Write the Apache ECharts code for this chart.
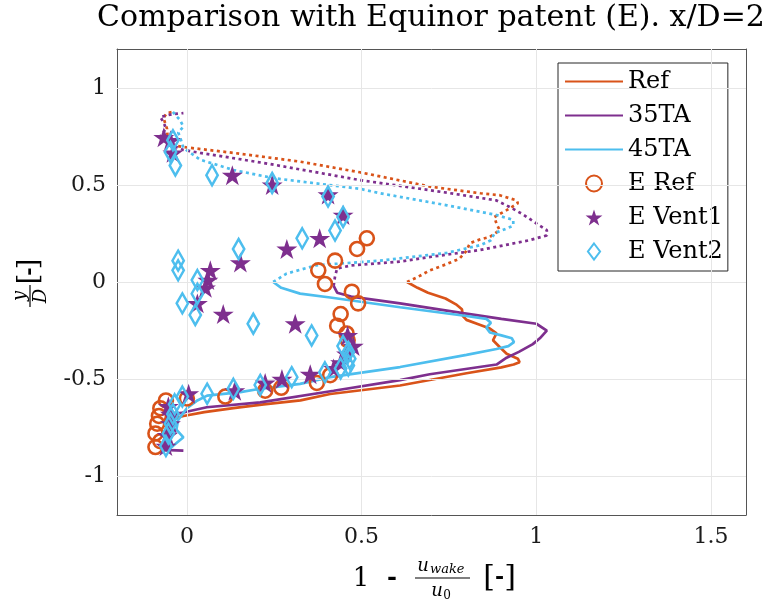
<!DOCTYPE html>
<html><head><meta charset="utf-8">
<script src="https://cdn.jsdelivr.net/npm/echarts@6/dist/echarts.min.js"></script>
<style>html,body{margin:0;padding:0;background:#fff}#c{width:773px;height:613px}</style>
</head><body><div id="c"></div>
<script>
// ---- tick values ----
const xTicks = [0, 0.5, 1, 1.5];
const yTicks = [-1, -0.5, 0, 0.5, 1];
const lineNames = ['Ref', '35TA', '45TA'];
const markerNames = ['E Ref', 'E Vent1', 'E Vent2'];

// ---- simulated profiles [x, y] (solid = lower part, dotted = upper part) ----
const refSolid = [[-0.06,-0.87],[-0.065,-0.82],[-0.06,-0.77],[-0.045,-0.725],[-0.03,-0.70],[-0.01,-0.69],[0.05,-0.67],[0.133,-0.65],[0.22,-0.63],[0.325,-0.61],[0.41,-0.577],[0.61,-0.533],[0.80,-0.47],[0.90,-0.44],[0.935,-0.425],[0.952,-0.413],[0.947,-0.395],[0.915,-0.37],[0.895,-0.335],[0.876,-0.30],[0.886,-0.265],[0.867,-0.24],[0.83,-0.215],[0.80,-0.195],[0.79,-0.175],[0.787,-0.14],[0.77,-0.115],[0.74,-0.085],[0.69,-0.055],[0.66,-0.03],[0.63,0.0]];
const refDotted = [[0.63,0.0],[0.66,0.025],[0.695,0.06],[0.74,0.09],[0.78,0.12],[0.80,0.16],[0.81,0.20],[0.84,0.22],[0.867,0.232],[0.895,0.267],[0.886,0.30],[0.88,0.335],[0.915,0.37],[0.947,0.405],[0.944,0.42],[0.895,0.447],[0.84,0.457],[0.70,0.49],[0.495,0.565],[0.324,0.62],[0.133,0.665],[-0.01,0.695],[-0.04,0.705],[-0.055,0.74],[-0.057,0.79],[-0.067,0.845],[-0.057,0.87],[-0.04,0.876]];
const ta35Solid = [[-0.01,-0.868],[-0.07,-0.865],[-0.05,-0.83],[-0.045,-0.78],[-0.045,-0.72],[-0.03,-0.68],[0.057,-0.645],[0.21,-0.62],[0.42,-0.56],[0.61,-0.505],[0.695,-0.475],[0.886,-0.425],[0.915,-0.39],[0.95,-0.36],[0.99,-0.32],[1.01,-0.29],[1.03,-0.25],[1.0,-0.215],[0.90,-0.19],[0.79,-0.16],[0.61,-0.11],[0.47,-0.075],[0.43,-0.055],[0.42,-0.02]];
const ta35Dotted = [[0.42,-0.02],[0.424,0.03],[0.43,0.07],[0.47,0.085],[0.61,0.105],[0.70,0.13],[0.84,0.165],[0.98,0.215],[1.03,0.24],[1.03,0.267],[1.01,0.29],[0.96,0.35],[0.925,0.385],[0.886,0.42],[0.744,0.46],[0.495,0.525],[0.23,0.61],[0.038,0.665],[-0.01,0.68],[-0.05,0.71],[-0.076,0.75],[-0.06,0.79],[-0.066,0.82],[-0.076,0.85],[-0.04,0.865],[-0.01,0.87]];
const ta45Solid = [[-0.06,-0.87],[-0.04,-0.845],[-0.01,-0.80],[-0.03,-0.76],[-0.025,-0.71],[0.0,-0.65],[0.03,-0.61],[0.058,-0.585],[0.153,-0.567],[0.21,-0.55],[0.324,-0.525],[0.41,-0.49],[0.61,-0.438],[0.80,-0.375],[0.886,-0.345],[0.92,-0.33],[0.936,-0.31],[0.93,-0.29],[0.90,-0.275],[0.867,-0.26],[0.857,-0.235],[0.87,-0.21],[0.857,-0.19],[0.80,-0.175],[0.61,-0.13],[0.41,-0.08],[0.324,-0.06],[0.27,-0.03],[0.247,0.0]];
const ta45Dotted = [[0.247,0.0],[0.285,0.043],[0.37,0.086],[0.553,0.11],[0.744,0.15],[0.84,0.19],[0.87,0.215],[0.88,0.25],[0.934,0.29],[0.934,0.32],[0.886,0.345],[0.744,0.395],[0.553,0.457],[0.495,0.48],[0.247,0.535],[0.133,0.577],[0.038,0.63],[-0.01,0.69],[-0.02,0.75],[-0.025,0.77],[-0.01,0.80],[-0.02,0.835],[-0.033,0.86],[-0.04,0.876]];

// ---- patent data points ----
const eRef = [[0.515,0.225],[0.487,0.17],[0.424,0.11],[0.376,0.06],[0.395,-0.01],[0.472,-0.05],[0.49,-0.11],[0.44,-0.165],[0.43,-0.225],[0.457,-0.265],[0.46,-0.30],[0.41,-0.48],[0.372,-0.52],[0.27,-0.545],[0.224,-0.56],[0.11,-0.59],[0.0,-0.60],[-0.06,-0.61],[-0.076,-0.65],[-0.08,-0.69],[-0.085,-0.73],[-0.09,-0.78],[-0.076,-0.82],[-0.09,-0.85]];
const eVent1 = [[0.447,0.345],[0.404,0.45],[0.244,0.50],[0.13,0.55],[-0.04,0.665],[-0.047,0.73],[-0.066,0.745],[0.38,0.225],[0.286,0.17],[0.153,0.10],[0.067,0.06],[0.06,0.01],[0.053,-0.03],[0.03,-0.11],[0.104,-0.165],[0.31,-0.215],[0.46,-0.275],[0.476,-0.33],[0.457,-0.37],[0.44,-0.415],[0.42,-0.445],[0.353,-0.475],[0.272,-0.50],[0.224,-0.52],[0.137,-0.56],[0.005,-0.575],[-0.053,-0.64],[-0.047,-0.68],[-0.047,-0.73],[-0.056,-0.79],[-0.06,-0.845]];
const eVent2 = [[-0.033,0.60],[-0.047,0.67],[-0.04,0.73],[0.072,0.55],[0.244,0.51],[0.404,0.44],[0.447,0.335],[0.424,0.265],[0.33,0.225],[0.148,0.17],[-0.025,0.11],[-0.025,0.06],[0.03,0.01],[0.03,-0.06],[-0.013,-0.11],[0.024,-0.17],[0.19,-0.215],[0.357,-0.275],[0.447,-0.33],[0.462,-0.36],[0.466,-0.395],[0.462,-0.43],[0.44,-0.445],[0.395,-0.465],[0.30,-0.49],[0.21,-0.53],[0.133,-0.55],[0.058,-0.575],[-0.013,-0.59],[-0.035,-0.63],[-0.04,-0.68],[-0.047,-0.73],[-0.053,-0.78],[-0.06,-0.845]];

const SERIF = '"DejaVu Serif", "Liberation Serif", serif';
const C_REF = '#D95319', C_35 = '#7E2F8E', C_45 = '#4DBEEE';
const AXC = '#555555';
const STAR = 'path://M50,0 L61.2,34.5 L97.6,34.5 L68.2,55.9 L79.4,90.5 L50,69.1 L20.6,90.5 L31.8,55.9 L2.4,34.5 L38.8,34.5 Z';
const DIAMOND = 'path://M38,0 L76,50 L38,100 L0,50 Z';

function lineSeries(name, data, color, dotted) {
  return {
    type: 'line', name: name, data: data, xAxisIndex: 0, yAxisIndex: 0,
    symbol: 'none', showSymbol: false, smooth: false, z: 3, silent: true,
    lineStyle: { color: color, width: 2.7, type: dotted ? [3, 3.5] : 'solid', cap: 'butt' },
    itemStyle: { color: color }
  };
}
function scatterSeries(name, data, color, symbol, size, filled) {
  return {
    type: 'scatter', name: name, data: data, xAxisIndex: 0, yAxisIndex: 0,
    symbol: symbol, symbolSize: size, symbolKeepAspect: true, z: 5, silent: true,
    itemStyle: filled ? { color: color, borderWidth: 0, opacity: 1 }
                      : { color: 'rgba(255,255,255,0)', borderColor: color, borderWidth: 2.6, opacity: 1 }
  };
}

const chart = echarts.init(document.getElementById('c'), null, { renderer: 'canvas' });

const gridMarks = xTicks.map(v => ({ xAxis: v })).concat(yTicks.map(v => ({ yAxis: v })));

function axisCommon(extra) {
  return Object.assign({
    axisLine: { show: true, onZero: false, lineStyle: { color: AXC, width: 1 } },
    splitLine: { show: false },
    minorTick: { show: false }
  }, extra);
}

const legendData = lineNames.map(n => ({ name: n, itemStyle: { color: 'rgba(0,0,0,0)', borderColor: 'rgba(0,0,0,0)', borderWidth: 0, opacity: 0 } }))
  .concat(markerNames.map(n => ({ name: n })));

const option = {
  animation: false,
  backgroundColor: '#ffffff',
  grid: { left: 117, right: 27, top: 49, bottom: 98, containLabel: false },
  xAxis: [
    axisCommon({ type: 'value', position: 'bottom', min: -0.2, max: 1.6,
      axisTick: { show: true, inside: true, length: 6, customValues: xTicks, lineStyle: { color: AXC } },
      axisLabel: { show: true, customValues: xTicks, margin: 11, fontFamily: SERIF, fontSize: 22, color: '#1a1a1a',
        formatter: v => String(v) } }),
    axisCommon({ type: 'value', position: 'top', min: -0.2, max: 1.6,
      axisTick: { show: true, inside: true, length: 6, customValues: xTicks, lineStyle: { color: AXC } },
      axisLabel: { show: false } })
  ],
  yAxis: [
    axisCommon({ type: 'value', position: 'left', min: -1.2, max: 1.2,
      axisTick: { show: true, inside: true, length: 6, customValues: yTicks, lineStyle: { color: AXC } },
      axisLabel: { show: true, customValues: yTicks, margin: 11, fontFamily: SERIF, fontSize: 22, color: '#1a1a1a',
        formatter: v => String(v) } }),
    axisCommon({ type: 'value', position: 'right', min: -1.2, max: 1.2,
      axisTick: { show: true, inside: true, length: 6, customValues: yTicks, lineStyle: { color: AXC } },
      axisLabel: { show: false } })
  ],
  legend: {
    orient: 'vertical', left: 558, top: 63,
    data: legendData,
    itemWidth: 58, itemHeight: 16, itemGap: 9,
    padding: [6, 5, 7, 6],
    symbolKeepAspect: true,
    backgroundColor: '#ffffff', borderColor: '#262626', borderWidth: 1, borderRadius: 0,
    selectedMode: false,
    textStyle: { fontFamily: SERIF, fontSize: 24, color: '#000', lineHeight: 25 }
  },
  series: [
    { type: 'line', name: 'grid', data: [], silent: true, z: 1, symbol: 'none',
      markLine: { silent: true, symbol: ['none', 'none'], animation: false, label: { show: false },
        lineStyle: { color: '#e6e6e6', width: 1, type: 'solid' }, emphasis: { disabled: true },
        data: gridMarks } },
    lineSeries('Ref', refSolid, C_REF, false),
    lineSeries('35TA', ta35Solid, C_35, false),
    lineSeries('45TA', ta45Solid, C_45, false),
    lineSeries('Ref dotted', refDotted, C_REF, true),
    lineSeries('35TA dotted', ta35Dotted, C_35, true),
    lineSeries('45TA dotted', ta45Dotted, C_45, true),
    scatterSeries('E Ref', eRef, C_REF, 'circle', 14, false),
    scatterSeries('E Vent1', eVent1, C_35, STAR, 21, true),
    scatterSeries('E Vent2', eVent2, C_45, DIAMOND, [15, 20], false)
  ],
  graphic: [
    { type: 'text', x: 431, y: 18, style: { text: 'Comparison with Equinor patent (E). x/D=2', fontFamily: SERIF, fontSize: 30, fill: '#000', align: 'center', verticalAlign: 'middle' } },
    // x-axis title: 1 - u_wake/u_0 [-]
    { type: 'text', x: 361, y: 579, style: { text: '1', fontFamily: SERIF, fontSize: 26, fill: '#000', align: 'center', verticalAlign: 'middle' } },
    { type: 'text', x: 392, y: 579, style: { text: '-', fontFamily: SERIF, fontSize: 24, fontWeight: 'bold', fill: '#000', align: 'center', verticalAlign: 'middle' } },
    { type: 'text', x: 423, y: 566, style: { text: 'u', fontFamily: SERIF, fontSize: 18, fontStyle: 'italic', fill: '#000', align: 'center', verticalAlign: 'middle' } },
    { type: 'text', x: 430, y: 570, style: { text: 'wake', fontFamily: SERIF, fontSize: 13, fontStyle: 'italic', fill: '#000', align: 'left', verticalAlign: 'middle' } },
    { type: 'line', shape: { x1: 415, y1: 578, x2: 470, y2: 578 }, style: { stroke: '#000', lineWidth: 1.2 } },
    { type: 'text', x: 437, y: 591, style: { text: 'u', fontFamily: SERIF, fontSize: 18, fontStyle: 'italic', fill: '#000', align: 'center', verticalAlign: 'middle' } },
    { type: 'text', x: 447, y: 596, style: { text: '0', fontFamily: SERIF, fontSize: 12, fill: '#000', align: 'center', verticalAlign: 'middle' } },
    { type: 'text', x: 489, y: 578, style: { text: '[', fontFamily: SERIF, fontSize: 30, fill: '#000', align: 'center', verticalAlign: 'middle' } },
    { type: 'text', x: 499.5, y: 578, style: { text: '-', fontFamily: SERIF, fontSize: 22, fontWeight: 'bold', fill: '#000', align: 'center', verticalAlign: 'middle' } },
    { type: 'text', x: 510, y: 578, style: { text: ']', fontFamily: SERIF, fontSize: 30, fill: '#000', align: 'center', verticalAlign: 'middle' } },
    // y-axis title: y/D [-], rotated
    { type: 'group', x: 30, y: 283, rotation: Math.PI / 2, children: [
      { type: 'text', x: -13, y: -10, style: { text: 'y', fontFamily: SERIF, fontSize: 18, fontStyle: 'italic', fill: '#000', align: 'center', verticalAlign: 'middle' } },
      { type: 'line', shape: { x1: -24, y1: 0, x2: -2, y2: 0 }, style: { stroke: '#000', lineWidth: 1.2 } },
      { type: 'text', x: -13, y: 11, style: { text: 'D', fontFamily: SERIF, fontSize: 18, fontStyle: 'italic', fill: '#000', align: 'center', verticalAlign: 'middle' } },
      { type: 'text', x: 4, y: 0, style: { text: '[', fontFamily: SERIF, fontSize: 28, fill: '#000', align: 'center', verticalAlign: 'middle' } },
      { type: 'text', x: 11.5, y: 0, style: { text: '-', fontFamily: SERIF, fontSize: 20, fontWeight: 'bold', fill: '#000', align: 'center', verticalAlign: 'middle' } },
      { type: 'text', x: 19, y: 0, style: { text: ']', fontFamily: SERIF, fontSize: 28, fill: '#000', align: 'center', verticalAlign: 'middle' } }
    ] }
  ]
};
chart.setOption(option);
</script>
</body></html>
